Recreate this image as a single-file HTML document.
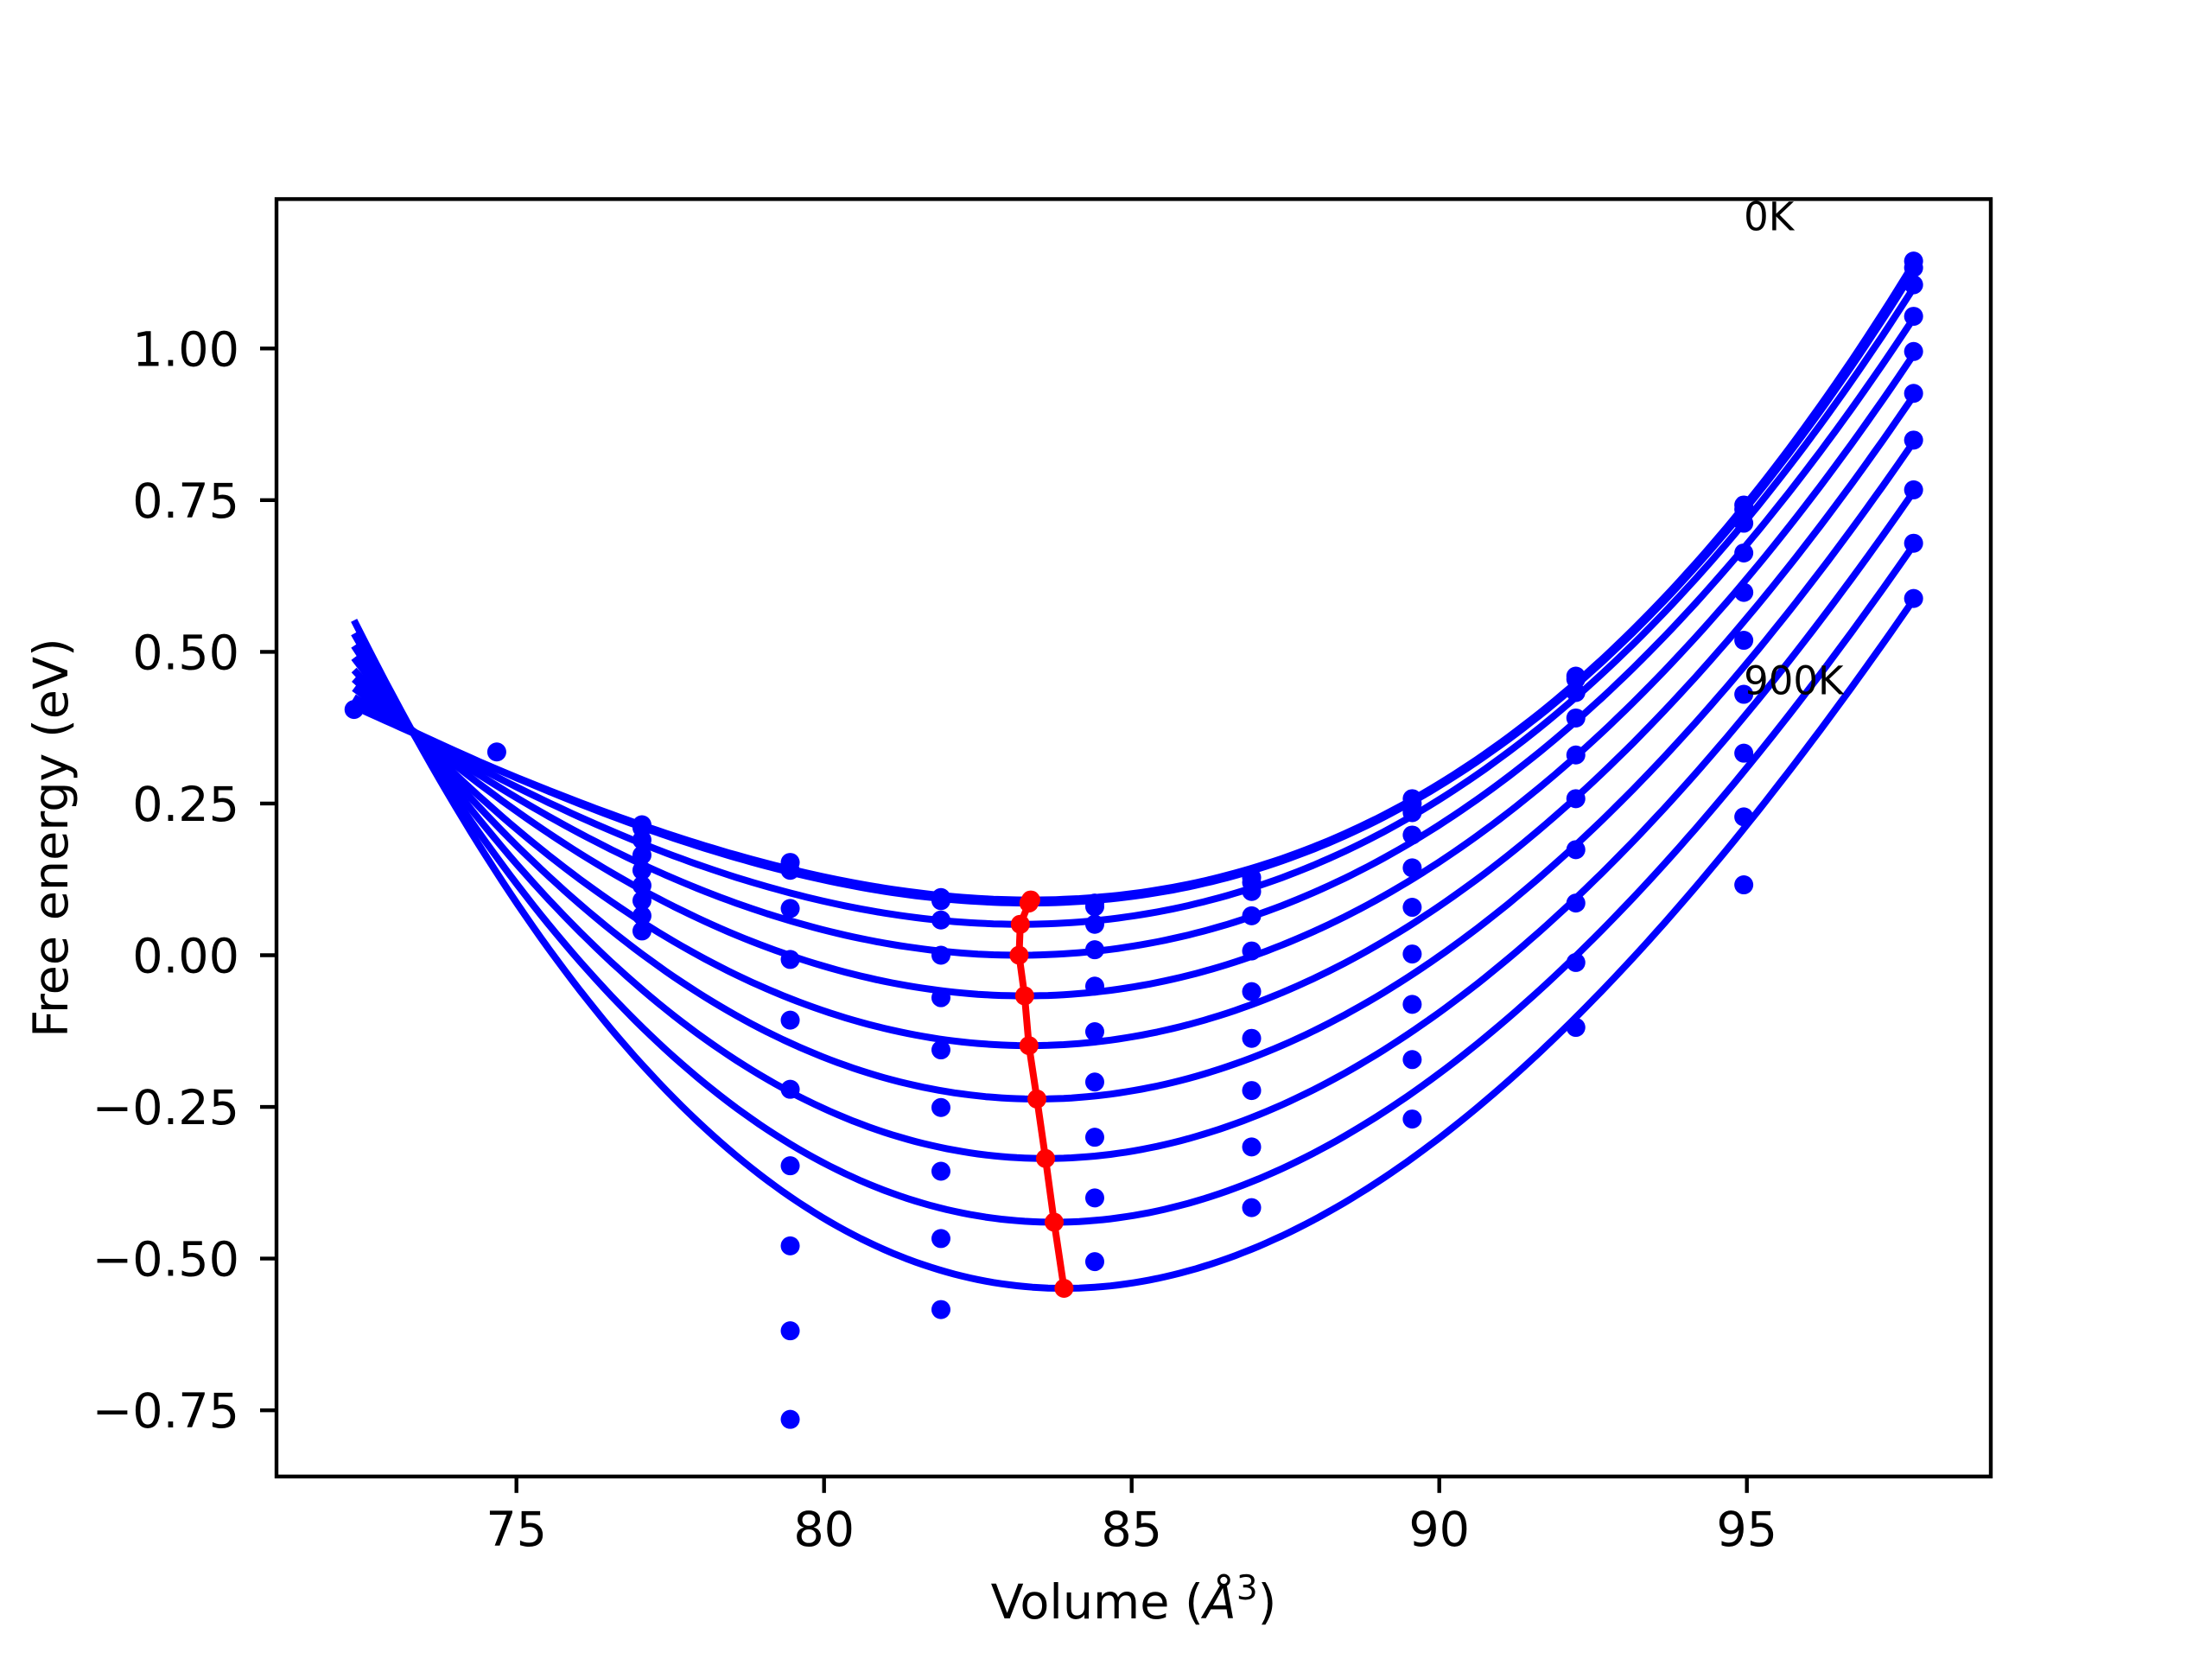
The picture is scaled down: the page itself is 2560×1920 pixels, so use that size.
<!DOCTYPE html>
<html><head><meta charset="utf-8"><style>
html,body{margin:0;padding:0;background:#fff;}
svg{display:block;font-family:"DejaVu Sans","Liberation Sans",sans-serif;}
</style></head><body>
<svg id="chart" width="2560" height="1920" viewBox="0 0 2560 1920" xmlns="http://www.w3.org/2000/svg">
<rect x="0" y="0" width="2560" height="1920" fill="#fff"/>
<g id="plot"></g>
<g id="axes"></g>
</svg>
<script>
const volumes = [72.36, 74.68, 77.04, 79.45, 81.90, 84.40, 86.95, 89.56, 92.22, 94.95, 97.71];
const temps = ["0K","100K","200K","300K","400K","500K","600K","700K","800K","900K"];
// dot energies per temperature, one per volume (null = missing)
const dots0 = [0.405, 0.335, 0.215, 0.153, 0.095, 0.086, 0.128, 0.258, 0.46, 0.742, 1.144];
const dots1 = [null, null, 0.21, 0.14, 0.09, 0.08, 0.12, 0.25, 0.455, 0.735, 1.133];
const dots2 = [null, null, 0.19, 0.077, 0.058, 0.051, 0.105, 0.235, 0.433, 0.712, 1.105];
const dots3 = [null, null, 0.165, -0.007, 0.0, 0.009, 0.065, 0.198, 0.391, 0.663, 1.053];
const dots4 = [null, null, 0.14, -0.107, -0.07, -0.051, 0.007, 0.144, 0.33, 0.598, 0.995];
const dots5 = [null, null, 0.115, -0.221, -0.156, -0.126, -0.06, 0.079, 0.258, 0.519, 0.926];
const dots6 = [null, null, 0.09, -0.347, -0.251, -0.209, -0.137, 0.002, 0.174, 0.43, 0.849];
const dots7 = [null, null, 0.065, -0.479, -0.356, -0.3, -0.223, -0.081, 0.086, 0.333, 0.767];
const dots8 = [null, null, 0.04, -0.619, -0.467, -0.4, -0.316, -0.172, -0.012, 0.228, 0.679];
const dots9 = [null, null, null, -0.765, -0.584, -0.505, -0.416, -0.27, -0.119, 0.116, 0.588];
const dotSets = [dots0,dots1,dots2,dots3,dots4,dots5,dots6,dots7,dots8,dots9];
// fitted minima (red line)
const minV = [83.36, 83.33, 83.19, 83.17, 83.26, 83.33, 83.46, 83.60, 83.74, 83.90];
const minE = [0.091, 0.086, 0.051, 0.0, -0.067, -0.149, -0.237, -0.335, -0.44, -0.549];
// fitted curve end values
const leftE = [0.41, 0.415, 0.425, 0.44, 0.455, 0.47, 0.49, 0.51, 0.53, 0.552];
const rightE = [1.14, 1.128, 1.10, 1.05, 0.99, 0.922, 0.846, 0.764, 0.676, 0.586];
const xTicks = [75, 80, 85, 90, 95];
const yTicks = [1.00, 0.75, 0.50, 0.25, 0.00, -0.25, -0.50, -0.75];
const yTickLabels = ["1.00","0.75","0.50","0.25","0.00","\u22120.25","\u22120.50","\u22120.75"];

const NS = "http://www.w3.org/2000/svg";
const L=320, R=2304, T=230.4, B=1708.8;
function X(v){ return 597.7 + (v-75)*71.2; }
function Y(e){ return 1105.5 - 702.2*e; }
function mk(tag, attrs, parent){ const el=document.createElementNS(NS,tag); for(const k in attrs) el.setAttribute(k,attrs[k]); parent.appendChild(el); return el; }
const plot=document.getElementById('plot'), axes=document.getElementById('axes');

const vMin=volumes[0], vMax=volumes[volumes.length-1];
temps.forEach((t,i)=>{
  // cubic fit E = E0 + a dV^2 + b dV^3 through both ends
  const V0=minV[i], E0=minE[i];
  const d1=vMin-V0, d2=vMax-V0, e1=leftE[i]-E0, e2=rightE[i]-E0;
  const det=d1*d1*d2*d2*d2 - d2*d2*d1*d1*d1;
  const a=(e1*d2*d2*d2 - e2*d1*d1*d1)/det;
  const b=(d1*d1*e2 - d2*d2*e1)/det;
  let p="";
  for(let k=0;k<=200;k++){ const v=vMin+(vMax-vMin)*k/200, dv=v-V0; const e=E0+a*dv*dv+b*dv*dv*dv; p+=(k?"L":"M")+X(v).toFixed(1)+" "+Y(e).toFixed(1); }
  const c=mk('path',{d:p,fill:'none',stroke:'#0000ff','stroke-width':8,'stroke-linejoin':'round'},plot);
  
  
});
temps.forEach((t,i)=>{
  dotSets[i].forEach((e,j)=>{
    if(e===null) return;
    const d=mk('circle',{cx:X(volumes[j]),cy:Y(e),r:11,fill:'#0000ff'},plot);
    
    
  });
});
let rp="";
minV.forEach((v,i)=>{ rp+=(i?"L":"M")+X(v).toFixed(1)+" "+Y(minE[i]).toFixed(1); });
const rl=mk('path',{d:rp,fill:'none',stroke:'#ff0000','stroke-width':8,'stroke-linejoin':'round'},plot);


minV.forEach((v,i)=>{
  const m=mk('circle',{cx:X(v),cy:Y(minE[i]),r:11,fill:'#ff0000'},plot);
  
  
});
const t0=mk('text',{x:X(94.95),y:Y(1.195),'font-size':45,fill:'#000'},plot);
t0.textContent="0K";


const t9=mk('text',{x:X(94.95),y:Y(0.43),'font-size':45,fill:'#000'},plot);
t9.textContent="900K";



const fr=mk('rect',{x:L,y:T,width:R-L,height:B-T,fill:'none',stroke:'#000','stroke-width':4.4},axes);


xTicks.forEach(v=>{
  const tk=mk('line',{x1:X(v),x2:X(v),y1:B,y2:B+19,stroke:'#000','stroke-width':4.4},axes);
  
  
  const lb=mk('text',{x:X(v),y:B+80,'font-size':55.6,'text-anchor':'middle',fill:'#000'},axes);
  lb.textContent=String(v);
  
  
});
yTicks.forEach((v,i)=>{
  const tk=mk('line',{x1:L-19,x2:L,y1:Y(v),y2:Y(v),stroke:'#000','stroke-width':4.4},axes);
  
  
  const lb=mk('text',{x:277,y:Y(v)+20,'font-size':55.6,'text-anchor':'end',fill:'#000'},axes);
  lb.textContent=yTickLabels[i];
  
  
});
const xt=mk('text',{x:(L+R)/2,y:1873,'font-size':55.6,'text-anchor':'middle',fill:'#000'},axes);
xt.innerHTML='Volume (<tspan font-style="italic">Å</tspan><tspan font-size="39" dy="-22">3</tspan><tspan dy="22">)</tspan>';


const yt=mk('text',{x:0,y:0,'font-size':55.6,'text-anchor':'middle',fill:'#000',transform:'translate(78,'+((T+B)/2)+') rotate(-90)'},axes);
yt.textContent="Free energy (eV)";


</script>
</body></html>
